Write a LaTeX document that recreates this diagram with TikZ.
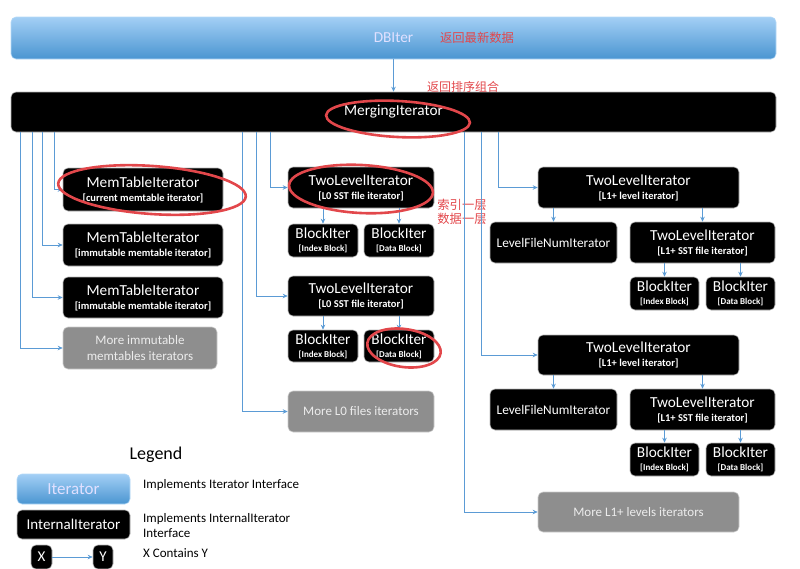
\documentclass[tikz,border=0pt]{standalone}
\usepackage{fontspec}
\setmainfont{Carlito}
\newfontfamily\cjk{Noto Sans CJK SC}
\usetikzlibrary{arrows.meta,calc}
\definecolor{connblue}{HTML}{5B9BD5}
\definecolor{topblue}{HTML}{A3CFF5}
\definecolor{botblue}{HTML}{4A95D1}
\definecolor{notered}{HTML}{E2474B}
\definecolor{morefill}{HTML}{8E8E8E}
\tikzset{
  ibox/.style={rectangle, rounded corners=5pt, fill=black, draw=gray!55, line width=0.6pt,
    text=white, align=center, inner sep=1pt, font=\fontsize{15.3}{15}\selectfont},
  morebox/.style={rectangle, rounded corners=5pt, fill=morefill, draw=gray!40, line width=0.6pt,
    text=gray!15, align=center, inner sep=1pt, font=\fontsize{13}{16.5}\selectfont},
  bluebox/.style={rectangle, rounded corners=5pt, top color=topblue, bottom color=botblue,
    draw=topblue!80!white, line width=0.6pt, text=white!88!blue, align=center, inner sep=1pt},
  conn/.style={draw=connblue, line width=1pt, -{Stealth[length=5pt,width=4.5pt]}},
  note/.style={text=notered, font=\cjk\fontsize{12}{14}\selectfont, inner sep=0pt},
  redring/.style={draw=notered, line width=2.6pt},
  legtext/.style={anchor=west, align=left, inner sep=0pt, font=\fontsize{13}{15}\selectfont}
}
\newcommand{\subl}[1]{\\[-1pt]{\bfseries\fontsize{10.5}{11}\selectfont #1}}
\newcommand{\subs}[1]{\\[-2pt]{\bfseries\fontsize{9}{10}\selectfont #1}}
\begin{document}
\begin{tikzpicture}[x=1pt,y=-1pt]
\useasboundingbox (0,0) rectangle (800,568);
% top
\node[bluebox, minimum width=765, minimum height=42, font=\fontsize{15.3}{16}\selectfont] (dbiter) at (393.5,38) {DBIter};
\node[ibox, minimum width=765, minimum height=40] (merge) at (393.5,112) {MergingIterator};
\draw[conn] (dbiter) -- (merge);
\node[note, font=\cjk\fontsize{12.3}{14}\selectfont] (n1) at (477,38) {返回最新数据};
\node[note] (n2) at (463,87) {返回排序组合};
% left column
\node[ibox, minimum width=160, minimum height=43] (mem1) at (143,189.5) {MemTableIterator\subl{[current memtable iterator]}};
\node[ibox, minimum width=160, minimum height=42] (mem2) at (143,245) {MemTableIterator\subl{[immutable memtable iterator]}};
\node[ibox, minimum width=160, minimum height=41] (mem3) at (143,297.5) {MemTableIterator\subl{[immutable memtable iterator]}};
\node[morebox, minimum width=154, minimum height=42] (moremem) at (140,348) {More immutable\\memtables iterators};
\draw[conn] ([xshift=44]merge.south west) |- (mem1.west);
\draw[conn] ([xshift=32]merge.south west) |- (mem2.west);
\draw[conn] ([xshift=22]merge.south west) |- (mem3.west);
\draw[conn] ([xshift=10]merge.south west) |- (moremem.west);
% middle column
\node[ibox, minimum width=146, minimum height=41] (tl0a) at (361,187.5) {TwoLevelIterator\subl{[L0 SST file iterator]}};
\node[ibox, minimum width=70, minimum height=33] (bi0a) at (323,240.5) {BlockIter\subs{[Index Block]}};
\node[ibox, minimum width=70, minimum height=33] (bd0a) at (399,240.5) {BlockIter\subs{[Data Block]}};
\node[ibox, minimum width=146, minimum height=40] (tl0b) at (361,296) {TwoLevelIterator\subl{[L0 SST file iterator]}};
\node[ibox, minimum width=70, minimum height=32] (bi0b) at (323,346) {BlockIter\subs{[Index Block]}};
\node[ibox, minimum width=70, minimum height=32] (bd0b) at (399,346) {BlockIter\subs{[Data Block]}};
\node[morebox, minimum width=146, minimum height=41] (morel0) at (361,411.5) {More L0 files iterators};
\draw[conn] ([xshift=260]merge.south west) |- (tl0a.west);
\draw[conn] ([xshift=246]merge.south west) |- (tl0b.west);
\draw[conn] ([xshift=232]merge.south west) |- (morel0.west);
\draw[conn] (tl0a.south -| bi0a.north) -- (bi0a.north);
\draw[conn] (tl0a.south -| bd0a.north) -- (bd0a.north);
\draw[conn] (tl0b.south -| bi0b.north) -- (bi0b.north);
\draw[conn] (tl0b.south -| bd0b.north) -- (bd0b.north);
\node[note, align=left, font=\cjk\fontsize{12.3}{14}\selectfont] (n3) at (462,212) {索引一层\\数据一层};
% right column
\node[ibox, minimum width=201, minimum height=41] (tl1a) at (638.5,187.5) {TwoLevelIterator\subl{[L1+ level iterator]}};
\node[ibox, minimum width=127, minimum height=41, font=\fontsize{13.3}{14}\selectfont] (lfn1) at (553.5,242.5) {LevelFileNumIterator};
\node[ibox, minimum width=145, minimum height=41] (sst1) at (702.5,242.5) {TwoLevelIterator\subl{[L1+ SST file iterator]}};
\node[ibox, minimum width=69, minimum height=33] (bi1) at (664.5,293.5) {BlockIter\subs{[Index Block]}};
\node[ibox, minimum width=69, minimum height=33] (bd1) at (740.5,293.5) {BlockIter\subs{[Data Block]}};
\node[ibox, minimum width=201, minimum height=40] (tl1b) at (638.5,355) {TwoLevelIterator\subl{[L1+ level iterator]}};
\node[ibox, minimum width=127, minimum height=41, font=\fontsize{13.3}{14}\selectfont] (lfn2) at (553.5,409.5) {LevelFileNumIterator};
\node[ibox, minimum width=145, minimum height=41] (sst2) at (702.5,409.5) {TwoLevelIterator\subl{[L1+ SST file iterator]}};
\node[ibox, minimum width=69, minimum height=33] (bi2) at (664.5,459.5) {BlockIter\subs{[Index Block]}};
\node[ibox, minimum width=69, minimum height=33] (bd2) at (740.5,459.5) {BlockIter\subs{[Data Block]}};
\node[morebox, minimum width=201, minimum height=40] (morel1) at (638.5,512) {More L1+ levels iterators};
\draw[conn] ([xshift=488]merge.south west) |- (tl1a.west);
\draw[conn] ([xshift=471]merge.south west) |- (tl1b.west);
\draw[conn] ([xshift=454]merge.south west) |- (morel1.west);
\draw[conn] (tl1a.south -| lfn1.north) -- (lfn1.north);
\draw[conn] (tl1a.south -| sst1.north) -- (sst1.north);
\draw[conn] (sst1.south -| bi1.north) -- (bi1.north);
\draw[conn] (sst1.south -| bd1.north) -- (bd1.north);
\draw[conn] (tl1b.south -| lfn2.north) -- (lfn2.north);
\draw[conn] (tl1b.south -| sst2.north) -- (sst2.north);
\draw[conn] (sst2.south -| bi2.north) -- (bi2.north);
\draw[conn] (sst2.south -| bd2.north) -- (bd2.north);
% legend
\node[font=\fontsize{18}{20}\selectfont, inner sep=0pt] (legend) at (156,455) {Legend};
\node[bluebox, minimum width=113, minimum height=30, font=\fontsize{17}{18}\selectfont] (lgiter) at (73.5,489) {Iterator};
\node[ibox, minimum width=113, minimum height=29, font=\fontsize{15}{16}\selectfont] (lgint) at (73.5,524.5) {InternalIterator};
\node[ibox, minimum width=21, minimum height=24, font=\fontsize{15}{16}\selectfont] (lgx) at (41.5,557) {X};
\node[ibox, minimum width=20, minimum height=24, font=\fontsize{15}{16}\selectfont] (lgy) at (103,557) {Y};
\draw[conn] (lgx) -- (lgy);
\node[legtext] (lt1) at (143,485) {Implements Iterator Interface};
\node[legtext] (lt2) at (143,525.5) {Implements InternalIterator\\Interface};
\node[legtext] (lt3) at (143,553) {X Contains Y};
% red annotation rings
\draw[redring, rotate around={-3:(398,119)}] (398,119) ellipse [x radius=72, y radius=18];
\draw[redring, rotate around={-4:(152,190)}] (152,190) ellipse [x radius=94, y radius=24];
\draw[redring, rotate around={-3:(361,189)}] (361,189) ellipse [x radius=72, y radius=24];
\draw[redring, rotate around={-8:(404,348)}] (404,348) ellipse [x radius=37, y radius=19];
\end{tikzpicture}
\end{document}
